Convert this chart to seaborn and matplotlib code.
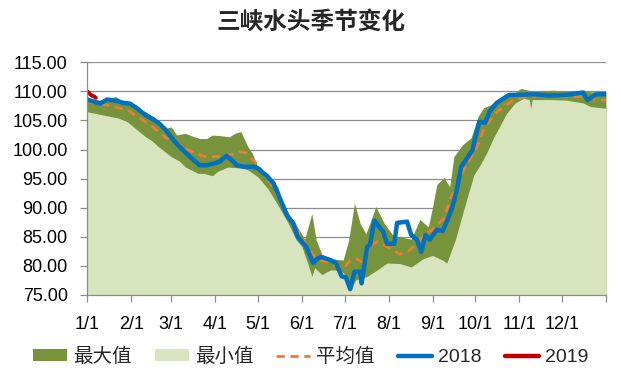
import matplotlib
matplotlib.use('Agg')
import matplotlib.pyplot as plt
from matplotlib.patches import Patch
from matplotlib.lines import Line2D
import seaborn as sns
import pandas as pd

# day-of-year (0 = 1/1) and water head values
max_days = [0, 9, 20, 29, 37, 41, 47, 52, 56, 59, 63, 69, 74, 79, 84, 88, 93, 100, 104, 108,
            113, 116, 120, 127, 134, 139, 146, 149, 153, 158, 161, 165, 173, 180, 184, 188, 192, 196, 200, 203,
            209, 215, 220, 228, 234, 240, 243, 246, 251, 255, 258, 264, 270, 275, 279, 284, 290, 300, 305, 314,
            328, 337, 349, 358, 365]
max_vals = [108.8, 108.5, 109.1, 107.8, 106.8, 106.5, 105.6, 104.5, 103.7, 103.9, 102.5, 102.8, 102.3, 101.9, 101.9, 102.5, 102.4, 102.2, 102.8, 103.1,
            100.5, 99.4, 97.0, 95.6, 93.6, 89.8, 87.5, 86.2, 84.6, 89.0, 84.5, 82.0, 81.2, 81.0, 84.5, 90.8, 87.3, 85.5, 88.1, 90.2,
            87.3, 85.3, 85.0, 84.6, 88.0, 86.7, 90.2, 94.0, 95.2, 93.6, 98.8, 100.8, 102.0, 105.7, 107.2, 107.7, 108.8, 109.6, 110.5, 110.0,
            110.2, 110.0, 110.0, 109.9, 110.0]

min_days = [0, 12, 22, 28, 31, 41, 46, 50, 59, 65, 69, 78, 82, 88, 92, 99, 109, 113, 120, 127,
            134, 141, 147, 151, 155, 158, 160, 165, 171, 174, 180, 186, 189, 197, 204, 211, 220, 228, 236, 243,
            250, 253, 259, 263, 268, 272, 277, 281, 286, 290, 295, 301, 307, 311, 312, 313, 325, 337, 349, 354,
            365]
min_vals = [106.5, 105.9, 105.4, 104.8, 104.2, 102.2, 101.4, 100.5, 98.8, 98.0, 97.0, 95.9, 95.9, 95.5, 96.3, 97.0, 96.8, 96.5, 95.3, 93.3,
            90.5, 87.5, 84.5, 83.3, 80.5, 78.2, 79.7, 78.5, 79.3, 79.3, 78.9, 76.4, 77.6, 78.2, 79.3, 80.5, 80.4, 79.8, 81.2, 81.8,
            81.0, 80.5, 84.5, 88.0, 92.3, 95.6, 97.6, 99.4, 102.1, 103.9, 106.2, 108.0, 108.8, 108.6, 107.0, 108.6, 108.6, 108.5, 108.0, 107.4,
            107.1]

avg_days = [0, 9, 18, 28, 37, 46, 56, 65, 75, 84, 93, 103, 108, 112, 119, 126, 133, 140, 147, 150,
            154, 161, 171, 180, 185, 190, 194, 199, 204, 211, 220, 225, 231, 236, 244, 251, 256, 261, 265, 269,
            274, 279, 286, 293, 300, 309, 323, 337, 349, 361, 365]
avg_vals = [108.2, 107.9, 107.4, 106.8, 105.4, 103.9, 101.9, 100.8, 99.4, 98.7, 98.8, 99.2, 99.6, 99.4, 97.6, 95.3, 92.5, 89.0, 86.2, 85.3,
            83.6, 81.2, 80.5, 79.5, 81.0, 81.2, 80.5, 83.3, 84.2, 83.3, 82.0, 82.4, 83.6, 85.0, 86.5, 88.2, 91.9, 94.2, 96.5, 98.2,
            100.3, 103.4, 106.0, 107.4, 108.5, 109.1, 109.3, 109.1, 109.1, 108.5, 108.5]

y2018_days = [0, 9, 14, 20, 25, 30, 35, 41, 47, 51, 55, 61, 66, 72, 79, 84, 89, 93, 98, 103,
              105, 110, 117, 120, 124, 126, 131, 138, 141, 145, 148, 154, 159, 162, 165, 171, 175, 179, 182, 185,
              188, 192, 193, 197, 199, 202, 206, 208, 211, 216, 218, 225, 228, 232, 235, 238, 241, 246, 250, 253,
              257, 260, 263, 268, 271, 274, 276, 280, 283, 288, 293, 297, 304, 314, 325, 337, 349, 352, 358, 365]
y2018_vals = [108.6, 107.9, 108.6, 108.4, 108.05, 107.9, 107.1, 105.9, 105.1, 104.4, 103.4, 101.5, 100.2, 98.8, 97.3, 97.3, 97.6, 97.9, 98.9, 97.9,
              97.3, 97.05, 97.05, 96.8, 95.9, 95.6, 94.2, 90.2, 88.5, 87.3, 85.0, 83.3, 80.5, 81.3, 81.5, 81.0, 80.5, 78.2, 78.0, 76.0,
              79.0, 79.0, 77.0, 83.3, 83.7, 87.8, 86.5, 86.0, 83.8, 83.8, 87.4, 87.6, 85.3, 84.5, 82.4, 85.3, 84.5, 86.2, 86.0, 87.6,
              90.2, 93.0, 97.0, 98.8, 99.9, 103.0, 104.8, 104.6, 106.5, 108.0, 108.8, 109.4, 109.4, 109.5, 109.3, 109.4, 109.8, 108.5, 109.5, 109.5]

y2019_days = [0, 1, 2, 3, 4, 5, 6]
y2019_vals = [110.0, 109.8, 109.5, 109.3, 109.2, 109.1, 108.9]

month_starts = [0, 31, 59, 90, 120, 151, 181, 212, 243, 273, 304, 334, 365]
month_labels = ['1/1', '2/1', '3/1', '4/1', '5/1', '6/1', '7/1', '8/1', '9/1', '10/1', '11/1', '12/1', '']

sns.set_style('white')
plt.rcParams['font.family'] = ['Liberation Sans', 'Noto Sans CJK SC']

C_MAX = '#77933C'
C_MIN = '#D7E4BD'
C_AVG = '#ED7D31'
C_18 = '#0070C0'
C_19 = '#C00000'
GRID = '#8C8C8C'

fig = plt.figure(figsize=(6.21, 3.86), dpi=100)
ax = fig.add_axes([0.1406, 0.2358, 0.8352, 0.6028])

ax.fill_between(max_days, 75, max_vals, color=C_MAX, lw=0, zorder=2)
ax.fill_between(min_days, 75, min_vals, color=C_MIN, lw=0, zorder=3)

avg = pd.DataFrame({'day': avg_days, 'val': avg_vals})
d18 = pd.DataFrame({'day': y2018_days, 'val': y2018_vals})
d19 = pd.DataFrame({'day': y2019_days, 'val': y2019_vals})
sns.lineplot(data=avg, x='day', y='val', ax=ax, color=C_AVG, lw=2, zorder=4)
ax.lines[-1].set_dashes([3, 2])
sns.lineplot(data=d18, x='day', y='val', ax=ax, color=C_18, lw=3.2, zorder=5)
sns.lineplot(data=d19, x='day', y='val', ax=ax, color=C_19, lw=2.8, zorder=6)

ax.set_xlim(0, 365)
ax.set_ylim(75, 115)
ax.set_yticks(range(75, 116, 5))
ax.set_yticklabels([f'{v:.2f}' for v in range(75, 116, 5)])
ax.set_xticks(month_starts)
ax.set_xticklabels(month_labels)
ax.set_xlabel('')
ax.set_ylabel('')

ax.grid(axis='y', color=GRID, lw=0.9)
ax.set_axisbelow(True)
for s in ['top', 'right']:
    ax.spines[s].set_visible(False)
for s in ['left', 'bottom']:
    ax.spines[s].set_color(GRID)
    ax.spines[s].set_linewidth(0.9)
    ax.spines[s].set_zorder(7)
ax.tick_params(axis='both', which='major', direction='out', length=5, width=0.9,
               color=GRID, labelsize=13, labelcolor='black', bottom=True, left=True)
ax.tick_params(axis='x', pad=10)
ax.tick_params(axis='y', pad=9)

fig.text(0.5016, 1 - 22 / 386, '三峡水头季节变化', ha='center', va='center',
         fontsize=17, fontweight='bold', family=['Noto Sans CJK SC', 'DejaVu Sans'])

handles = [
    Patch(facecolor=C_MAX, edgecolor='none'),
    Patch(facecolor=C_MIN, edgecolor='none'),
    Line2D([], [], color=C_AVG, lw=2, dashes=[3, 2]),
    Line2D([], [], color=C_18, lw=3.2),
    Line2D([], [], color=C_19, lw=3.2),
]
labels = ['最大值', '最小值', '平均值', '2018', '2019']
fig.legend(handles, labels, loc='center', bbox_to_anchor=(0.5, 1 - 357 / 386), ncol=5,
           frameon=False, fontsize=14, handlelength=1.75, handleheight=0.55,
           handletextpad=0.3, columnspacing=1.2)

fig.savefig('out.png', dpi=100)
